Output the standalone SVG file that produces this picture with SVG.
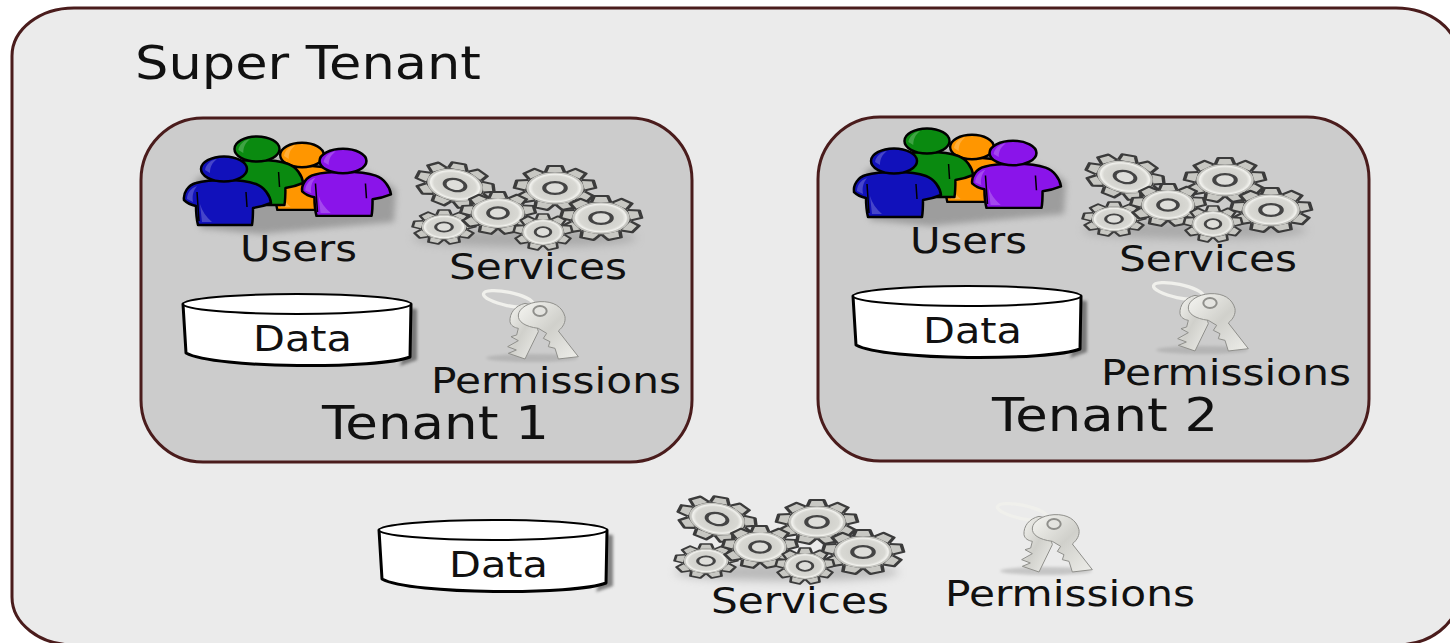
<svg xmlns="http://www.w3.org/2000/svg" width="1450" height="643" viewBox="0 0 1450 643">
<style>
text{font-family:"DejaVu Sans",sans-serif;fill:#111}
.lab{font-size:36px}
.big{font-size:47px}
.frame{stroke:#4a1c1c;stroke-width:3}
.hd{stroke:#000;stroke-width:2.5}
.ln{stroke:#000;stroke-linejoin:round}
.kp{fill:url(#key);stroke:#8f8f8b;stroke-width:3;stroke-linejoin:round}
.tooth{fill:#c8c8c3;stroke:#3b3b3b;stroke-width:.09;stroke-linejoin:round}
</style>
<defs>
<radialGradient id="disc" cx=".5" cy=".5" r=".5"><stop offset=".3" stop-color="#cfcfca"/><stop offset=".8" stop-color="#d8d8d3"/><stop offset=".93" stop-color="#f2f2ee"/><stop offset="1" stop-color="#bcbcb7"/></radialGradient>
<linearGradient id="key" x1="0" y1="0" x2="1" y2="1"><stop offset="0" stop-color="#f6f6f2"/><stop offset=".5" stop-color="#d0d0cb"/><stop offset="1" stop-color="#eeeeea"/></linearGradient>
<filter id="b3" x="-30%" y="-30%" width="160%" height="160%"><feGaussianBlur stdDeviation="3"/></filter>
<filter id="b4" x="-30%" y="-60%" width="160%" height="220%"><feGaussianBlur stdDeviation="5"/></filter>
<filter id="b1" x="-30%" y="-30%" width="160%" height="160%"><feGaussianBlur stdDeviation="1.500"/></filter>
<path id="t" class="tooth" d="M-.24 -.72L-.17 -1L.17 -1L.24 -.72"/>
<g id="person">
<path d="M-40 31C-41 24-36 16-28 14C-18 11-10 11 2 11C14 11 24 12 32 15C40 18 46 26 47 34C40 37 36 38 29 39C29 46 29 50 28 56L-26 56C-28 48-28 44-28 37C-33 36-37 34-40 31Z" class="hd" fill="currentColor" stroke-linejoin="round"/>
<path d="M-37 30C-37 24-33 19-27 17C-31 22-32 27-31 33ZM-24 35L-22 53L-12 53C-18 48-22 42-24 35Z" fill="#fff" opacity=".22"/>
<path d="M-27 23L-25 52M22 23L23 38" fill="none" stroke="#000" stroke-width="1.500"/>
<ellipse cx="0" cy="0" rx="23" ry="12.500" class="hd" fill="currentColor"/>
<path d="M-19 1C-18-5-13-9-7-10C-12-6-14-2-14 4Z" fill="#fff" opacity=".22"/>
</g>
<g id="gear">
<circle r=".76" fill="#3b3b3b"/>
<use href="#t"/><use href="#t" transform="rotate(40)"/><use href="#t" transform="rotate(80)"/><use href="#t" transform="rotate(120)"/><use href="#t" transform="rotate(160)"/><use href="#t" transform="rotate(200)"/><use href="#t" transform="rotate(240)"/><use href="#t" transform="rotate(280)"/><use href="#t" transform="rotate(320)"/>
<circle r=".72" fill="#c8c8c3"/>
<circle r=".68" fill="url(#disc)"/>
<circle r=".27" fill="#dededa" stroke="#444" stroke-width=".1"/>
</g>
<g id="gears">
<ellipse cx="525" cy="238" rx="112" ry="9" fill="#888" opacity=".5" filter="url(#b4)"/>
<use href="#gear" transform="translate(455 185) rotate(10) scale(39 22)"/>
<use href="#gear" transform="translate(555 188) scale(40 22)"/>
<use href="#gear" transform="translate(444 227) scale(31 17)"/>
<use href="#gear" transform="translate(498 213) scale(37 21)"/>
<use href="#gear" transform="translate(601 218) scale(40 22)"/>
<use href="#gear" transform="translate(543 232) scale(29 18)"/>
</g>
<g id="cyl">
<path d="M408 308L417 309L417 360L400 366L405 350Z" fill="#555" opacity=".7" filter="url(#b1)"/>
<path d="M183 304L186 353C215 369 380 369 410 357L411 304Z" fill="#fff" class="ln" stroke-width="3"/>
<ellipse cx="297" cy="304" rx="114" ry="10" fill="#fff" class="ln" stroke-width="2"/>
</g>
<g id="keys">
<ellipse cx="532" cy="358" rx="46" ry="4" fill="#999" opacity=".45" filter="url(#b1)"/>
<g transform="translate(475 285) scale(.33333)">
<ellipse cx="100" cy="42" rx="76" ry="20" transform="rotate(12 100 42)" fill="none" stroke="#f0f0ec" stroke-width="10"/>
<path d="M150 55C120 62 103 85 105 110C107 122 118 128 130 130L125 150L108 155L130 167L98 185L124 195L100 205L150 222L190 140L170 60Z" class="kp"/>
<path d="M195 50C235 48 262 65 270 95C272 112 265 125 250 138L310 215L250 222L240 190L220 185L225 170L205 160L215 145L190 130C150 125 128 110 130 90C132 70 160 52 195 50Z" class="kp"/>
<ellipse cx="195" cy="78" rx="20" ry="15" fill="#e4e4e0" stroke="#8f8f8b" stroke-width="6"/>
</g>
</g>
<g id="team">
<path d="M195 180C240 150 350 150 396 190L394 222L260 234L200 228Z" fill="#777" opacity=".55" filter="url(#b3)"/>
<use href="#person" transform="translate(302 155) scale(.95 .98)" color="#ff9600"/>
<use href="#person" transform="translate(257 149) scale(.98 1)" color="#0a8a10"/>
<use href="#person" transform="translate(343 161) scale(1.02 .98)" color="#8a14ea"/>
<use href="#person" transform="translate(224 169)" color="#1111bb"/>
</g>
</defs>
<rect width="1450" height="643" fill="#fff"/>
<g id="super-tenant">
<rect x="12" y="8" width="1446" height="637" rx="62" ry="48" fill="#ebebeb" class="frame"/>
<text x="135" y="79" class="big" textLength="346" lengthAdjust="spacingAndGlyphs">Super Tenant</text>
</g>
<g id="tenant-1">
<rect x="141" y="118" width="551" height="344" rx="62" fill="#ccc" class="frame"/>
<text x="322" y="439" class="big" textLength="227" lengthAdjust="spacingAndGlyphs">Tenant 1</text>
<g id="users-1"><use href="#team"/><text x="240" y="261" class="lab" textLength="117" lengthAdjust="spacingAndGlyphs">Users</text></g>
<g id="services-1"><use href="#gears"/><text x="449" y="279" class="lab" textLength="178" lengthAdjust="spacingAndGlyphs">Services</text></g>
<g id="data-1"><use href="#cyl"/><text x="253" y="351" class="lab" textLength="99" lengthAdjust="spacingAndGlyphs">Data</text></g>
<g id="permissions-1"><use href="#keys"/><text x="431" y="393" class="lab" textLength="250" lengthAdjust="spacingAndGlyphs">Permissions</text></g>
</g>
<g id="tenant-2">
<rect x="818" y="117" width="551" height="344" rx="62" fill="#ccc" class="frame"/>
<text x="992" y="431" class="big" textLength="226" lengthAdjust="spacingAndGlyphs">Tenant 2</text>
<g id="users-2" transform="translate(670 -8)"><use href="#team"/><text x="240" y="261" class="lab" textLength="117" lengthAdjust="spacingAndGlyphs">Users</text></g>
<g id="services-2" transform="translate(670 -8)"><use href="#gears"/><text x="449" y="279" class="lab" textLength="178" lengthAdjust="spacingAndGlyphs">Services</text></g>
<g id="data-2" transform="translate(670 -8)"><use href="#cyl"/><text x="253" y="351" class="lab" textLength="99" lengthAdjust="spacingAndGlyphs">Data</text></g>
<g id="permissions-2" transform="translate(670 -8)"><use href="#keys"/><text x="431" y="393" class="lab" textLength="250" lengthAdjust="spacingAndGlyphs">Permissions</text></g>
</g>
<g id="data-super" transform="translate(196 226)"><use href="#cyl"/><text x="253" y="351" class="lab" textLength="99" lengthAdjust="spacingAndGlyphs">Data</text></g>
<g id="services-super" transform="translate(262 334)"><use href="#gears"/><text x="449" y="279" class="lab" textLength="178" lengthAdjust="spacingAndGlyphs">Services</text></g>
<g id="permissions-super" transform="translate(514 213)"><use href="#keys"/><text x="431" y="393" class="lab" textLength="250" lengthAdjust="spacingAndGlyphs">Permissions</text></g>
<g id="connectors"/>
</svg>
